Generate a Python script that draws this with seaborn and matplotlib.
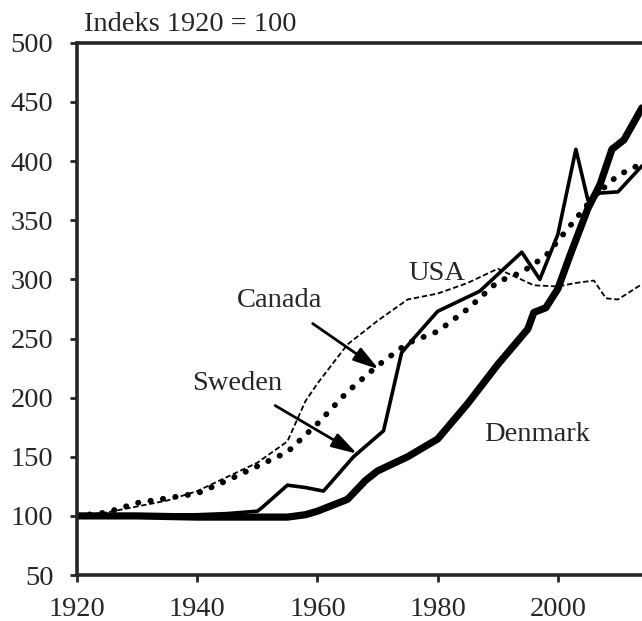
import matplotlib
matplotlib.use("Agg")
import matplotlib.pyplot as plt
import seaborn as sns
import pandas as pd

sns.set_style("ticks")
plt.rcParams["font.family"] = ["Liberation Serif", "DejaVu Serif"]

# values (index 1920 = 100)
denmark_years = [1920, 1930, 1940, 1950, 1955, 1958, 1960, 1965, 1968, 1970, 1975, 1980,
                 1985, 1990, 1995, 1996, 1998, 2000, 2002, 2005, 2007, 2009, 2011, 2014]
denmark_vals = [100, 100, 99, 99, 99, 101, 104, 114, 130, 138, 150, 165,
                195, 228, 258, 272, 276, 292, 320, 360, 380, 410, 418, 445]

sweden_years = [1920, 1930, 1940, 1945, 1950, 1951, 1955, 1958, 1961, 1966, 1971, 1974,
                1976, 1980, 1987, 1994, 1997, 2000, 2003, 2005, 2007, 2010, 2014]
sweden_vals = [100, 100, 101, 102, 104, 108, 126, 124, 121, 150, 172, 238,
               250, 273, 290, 323, 300, 338, 410, 367, 373, 374, 396]

canada_years = [1920, 1925, 1930, 1935, 1940, 1945, 1950, 1955, 1960, 1965, 1970, 1975,
                1980, 1985, 1990, 1994, 1998, 2002, 2006, 2010, 2014]
canada_vals = [100, 103, 111, 115, 119, 130, 142, 154, 178, 205, 227, 246,
               256, 275, 298, 306, 320, 345, 370, 388, 398]

usa_years = [1920, 1925, 1930, 1935, 1940, 1945, 1950, 1955, 1958, 1960, 1965, 1970,
             1975, 1980, 1985, 1990, 1993, 1996, 2000, 2003, 2006, 2008, 2010, 2014]
usa_vals = [100, 103, 108, 113, 121, 133, 145, 163, 197, 212, 245, 265,
            283, 288, 297, 309, 302, 295, 294, 297, 299, 284, 283, 296]

x_ticks = [1920, 1940, 1960, 1980, 2000]
y_ticks = [50, 100, 150, 200, 250, 300, 350, 400, 450, 500]

fig = plt.figure(figsize=(6.42, 6.21), dpi=100)
ax = fig.add_axes([0.12, 0.074, 0.88, 0.857])

sns.lineplot(x=usa_years, y=usa_vals, ax=ax, color="black", lw=1.3,
             linestyle=(0, (3, 1.5)))
sns.lineplot(x=canada_years, y=canada_vals, ax=ax, color="black", lw=4.2,
             linestyle=(0, (0.05, 2.1)), dash_capstyle="round")
sns.lineplot(x=sweden_years, y=sweden_vals, ax=ax, color="black", lw=2.6)
sns.lineplot(x=denmark_years, y=denmark_vals, ax=ax, color="black", lw=5.2)

ax.set_xlim(1920, 2014)
ax.set_ylim(50, 500)
ax.set_xticks(x_ticks)
ax.set_yticks(y_ticks)
ax.tick_params(labelsize=20.5, width=2, length=5, direction="out")
ax.tick_params(axis="x", pad=11)
ax.tick_params(axis="y", pad=12)
for side in ["left", "bottom", "top"]:
    ax.spines[side].set_linewidth(2.6)
ax.spines["right"].set_visible(False)
ax.set_xlabel("")
ax.set_ylabel("")

fs = 20.5
arrow = dict(arrowstyle="-|>,head_width=0.22,head_length=0.75",
             color="black", lw=2, shrinkA=9, shrinkB=0)
ax.text(1921.2, 505, "Indeks 1920 = 100", fontsize=fs, va="bottom", ha="left")
ax.text(1979.8, 305, "USA", fontsize=fs, ha="center", va="center")
ax.text(1996.5, 169, "Denmark", fontsize=fs, ha="center", va="center")
ax.annotate("Canada", xy=(1970.2, 224), xytext=(1953.7, 282), fontsize=fs,
            ha="center", va="center", arrowprops=arrow)
ax.annotate("Sweden", xy=(1966.6, 152.6), xytext=(1946.7, 212), fontsize=fs,
            ha="center", va="center", arrowprops=arrow)

fig.savefig("out.png", dpi=100)
